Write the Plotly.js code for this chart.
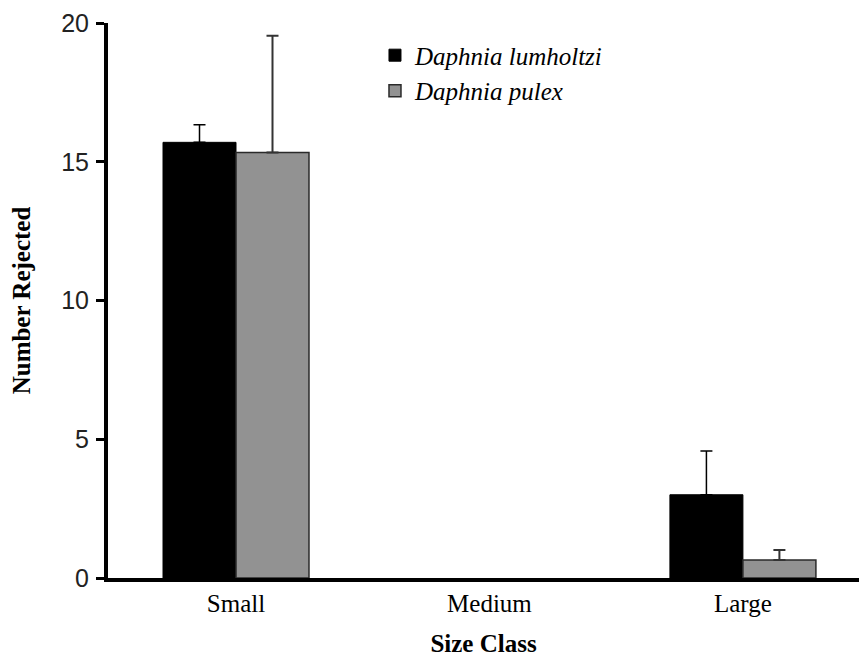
<!DOCTYPE html>
<html>
<head>
<meta charset="utf-8">
<script src="https://cdn.plot.ly/plotly-3.0.1.min.js"></script>
<style>html,body{margin:0;padding:0;background:#fff;}#chart{width:859px;height:659px;}</style>
</head>
<body>
<div id="chart"></div>
<script>
var categories = ["Small", "Medium", "Large"];
var lumholtziValues = [15.7, 0, 3.0];
var lumholtziErrors = [0.63, 0, 1.58];
var pulexValues = [15.33, 0, 0.65];
var pulexErrors = [4.21, 0, 0.36];
var yTicks = [0, 5, 10, 15, 20];

var serif = "Liberation Serif";

// zero counts draw no bar and no error bar
function shown(vals) { return vals.map(function (v) { return v > 0 ? v : null; }); }
function zeros(vals) { return vals.map(function () { return 0; }); }

var traces = [
  {
    type: "bar", name: "<i>Daphnia lumholtzi</i>", x: categories, y: shown(lumholtziValues),
    marker: {color: "#000000", line: {color: "#000000", width: 1}},
    error_y: {type: "data", array: lumholtziErrors, symmetric: false, arrayminus: zeros(lumholtziErrors), color: "#000000", thickness: 1.5, width: 6}
  },
  {
    type: "bar", name: "<i>Daphnia pulex</i>", x: categories, y: shown(pulexValues),
    marker: {color: "#929292", line: {color: "#2a2a2a", width: 1.5}},
    error_y: {type: "data", array: pulexErrors, symmetric: false, arrayminus: zeros(pulexErrors), color: "#333333", thickness: 2, width: 6}
  }
];

var layout = {
  width: 859, height: 659,
  margin: {l: 108, r: 0, t: 23, b: 81},
  paper_bgcolor: "#ffffff", plot_bgcolor: "#ffffff",
  barmode: "group", bargap: 0.424, bargroupgap: 0,
  showlegend: true,
  legend: {x: 0.3555, y: 0.983, xanchor: "left", yanchor: "top", bgcolor: "rgba(0,0,0,0)", traceorder: "normal",
    font: {family: serif, size: 25, color: "#000"}},
  xaxis: {
    range: [-0.505, 2.458], showgrid: false, zeroline: false,
    showline: true, linecolor: "#000", linewidth: 4, ticks: "",
    ticklabelstandoff: 0,
    tickfont: {family: serif, size: 25, color: "#000"},
    title: {text: "<b>Size Class</b>", font: {family: serif, size: 25, color: "#000"}, standoff: 19}
  },
  yaxis: {
    range: [0, 20], tickvals: yTicks, ticktext: yTicks.map(String), showgrid: false, zeroline: false,
    showline: true, linecolor: "#000", linewidth: 4, ticks: "outside", ticklen: 8, tickwidth: 3, tickcolor: "#000",
    ticklabelstandoff: 2,
    tickfont: {family: "Liberation Sans", size: 25, color: "#222"},
    title: {text: "<b>Number Rejected</b>", font: {family: serif, size: 25, color: "#000"}, standoff: 24}
  }
};

Plotly.newPlot("chart", traces, layout, {displayModeBar: false, staticPlot: true});
</script>
</body>
</html>
